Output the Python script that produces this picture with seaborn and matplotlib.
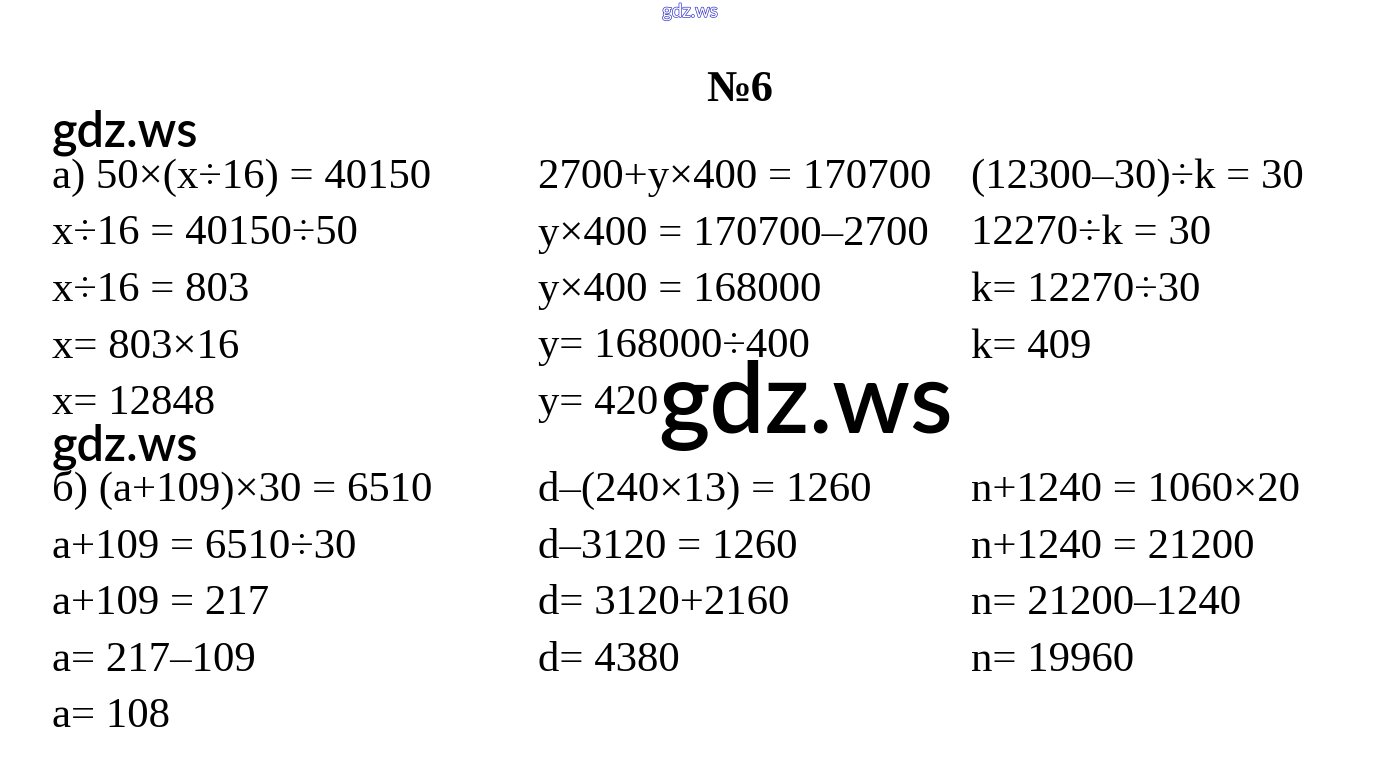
import matplotlib
matplotlib.use("Agg")
import matplotlib.pyplot as plt
import matplotlib.patheffects as pe
import seaborn as sns

sns.set_theme(style="white")

title = "№6"
watermark = "gdz.ws"

col_a_top = ["а) 50×(x÷16) = 40150", "x÷16 = 40150÷50", "x÷16 = 803", "x= 803×16", "x= 12848"]
col_b_top = ["2700+y×400 = 170700", "y×400 = 170700–2700", "y×400 = 168000", "y= 168000÷400", "y= 420"]
col_c_top = ["(12300–30)÷k = 30", "12270÷k = 30", "k= 12270÷30", "k= 409"]

col_a_bot = ["б) (a+109)×30 = 6510", "a+109 = 6510÷30", "a+109 = 217", "a= 217–109", "a= 108"]
col_b_bot = ["d–(240×13) = 1260", "d–3120 = 1260", "d= 3120+2160", "d= 4380"]
col_c_bot = ["n+1240 = 1060×20", "n+1240 = 21200", "n= 21200–1240", "n= 19960"]

W, H = 1380, 772
fig = plt.figure(figsize=(13.8, 7.72), dpi=100)
ax = fig.add_axes([0, 0, 1, 1])
ax.set_xlim(0, W)
ax.set_ylim(H, 0)
ax.axis("off")

serif = ["Liberation Serif", "DejaVu Serif"]
fs = 30.8
col_x = [52, 538, 971]
top_base = [188, 244.5, 301, 357.5, 414]
bot_base = [501, 558, 614, 671, 727]

for cx, lines in zip(col_x, [col_a_top, col_b_top, col_c_top]):
    for yb, t in zip(top_base, lines):
        ax.text(cx, yb, t, family=serif, fontsize=fs, color="black", va="baseline", ha="left")
for cx, lines in zip(col_x, [col_a_bot, col_b_bot, col_c_bot]):
    for yb, t in zip(bot_base, lines):
        ax.text(cx, yb, t, family=serif, fontsize=fs, color="black", va="baseline", ha="left")

ax.text(740, 101, title, family=serif, fontsize=32, fontweight="bold", color="black",
        va="baseline", ha="center")

wm = ["Lato", "DejaVu Sans"]
ax.text(52, 146, watermark, family=wm, fontsize=35, fontweight="semibold", color="black",
        va="baseline", ha="left")
ax.text(52, 460, watermark, family=wm, fontsize=35, fontweight="semibold", color="black",
        va="baseline", ha="left")
ax.text(806, 433, watermark, family=wm, fontsize=70.5, fontweight="semibold", color="black",
        va="baseline", ha="center")

t = ax.text(690, 17, watermark, family=wm, fontsize=13.4, color="white", va="baseline", ha="center")
t.set_path_effects([pe.Stroke(linewidth=1.0, foreground="#3a3acc"), pe.Normal()])

fig.savefig("out.png", dpi=100, facecolor="white")
